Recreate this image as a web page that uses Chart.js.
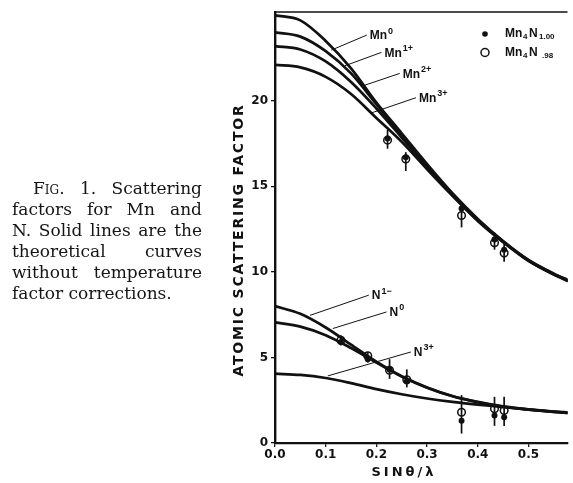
<!DOCTYPE html>
<html>
<head>
<meta charset="utf-8">
<script src="https://cdn.jsdelivr.net/npm/chart.js@4.4.1/dist/chart.umd.min.js"></script>
<style>
	html, body { margin: 0; padding: 0; background: #fff; }
	#wrap { position: relative; width: 573px; height: 483px; overflow: hidden; }
	#chart { position: absolute; left: 0; top: 0; }
	#caption { position: absolute; left: 12px; top: 178px; width: 190px; font-family: "DejaVu Serif", serif; font-size: 17px; line-height: 21px; color: #151515; }
	#caption div { text-align: justify; text-align-last: justify; }
	#caption div.first { padding-left: 21px; }
	#caption div.last { text-align-last: left; }
	.sc { font-variant: small-caps; }
</style>
</head>
<body>
<div id="wrap">
	<canvas id="chart" width="573" height="483"></canvas>
	<div id="caption">
		<div class="first"><span class="sc">Fig</span>. 1. Scattering</div>
		<div>factors for Mn and</div>
		<div>N. Solid lines are the</div>
		<div>theoretical curves</div>
		<div>without temperature</div>
		<div class="last">factor corrections.</div>
	</div>
</div>
<script>
// sin(theta)/lambda grid for the theoretical curves
const sinX  = [0, 0.05, 0.1, 0.15, 0.2, 0.25, 0.3, 0.35, 0.4, 0.45, 0.5, 0.55, 0.58]
const mn0   = [25.0, 24.7, 23.5, 21.9, 19.9, 18.1, 16.3, 14.6, 13.1, 11.8, 10.7, 9.9, 9.5]
const mn1p  = [24.0, 23.75, 22.9, 21.6, 19.8, 18.0, 16.2, 14.55, 13.05, 11.78, 10.68, 9.88, 9.48]
const mn2p  = [23.2, 23.0, 22.3, 21.1, 19.55, 17.85, 16.12, 14.5, 13.02, 11.76, 10.66, 9.86, 9.46]
const mn3p  = [22.1, 21.95, 21.4, 20.4, 19.0, 17.6, 16.0, 14.45, 12.98, 11.74, 10.64, 9.84, 9.44]
const n1m   = [8.0, 7.55, 6.75, 5.75, 4.75, 3.9, 3.25, 2.75, 2.4, 2.14, 1.97, 1.84, 1.78]
const n0    = [7.05, 6.8, 6.3, 5.55, 4.7, 3.88, 3.23, 2.73, 2.38, 2.12, 1.95, 1.82, 1.76]
const n3p   = [4.05, 3.98, 3.8, 3.5, 3.15, 2.85, 2.6, 2.4, 2.24, 2.1, 1.95, 1.82, 1.75]

// measured points
const mnX      = [0.222, 0.258, 0.368, 0.433, 0.452]
const mnFilled = [17.8, 16.7, 13.7, 11.9, 11.3]
const mnOpen   = [17.7, 16.6, 13.3, 11.7, 11.1]
const mnErrLo  = [17.2, 15.9, 12.6, 11.3, 10.6]
const mnErrHi  = [18.3, 17.0, 14.0, 12.3, 11.8]

const nX      = [0.13, 0.183, 0.226, 0.26, 0.368, 0.433, 0.452]
const nFilled = [5.9, 4.9, 4.3, 3.6, 1.3, 1.6, 1.5]
const nOpen   = [6.0, 5.1, 4.25, 3.7, 1.8, 2.0, 1.9]
const nErrLo  = [5.7, 4.7, 3.75, 3.25, 0.55, 1.0, 1.0]
const nErrHi  = [6.3, 5.3, 4.9, 4.3, 2.8, 2.7, 2.7]

const xTicks = [0, 0.1, 0.2, 0.3, 0.4, 0.5]
const yTicks = [0, 5, 10, 15, 20]

// curve labels with leader lines (data units)
const lblBase   = ['Mn', 'Mn', 'Mn', 'Mn', 'N', 'N', 'N']
const lblSup    = ['0', '1+', '2+', '3+', '1\u2212', '0', '3+']
const lblFrom   = [[0.111, 22.96], [0.138, 22.05], [0.172, 20.86], [0.191, 19.3], [0.069, 7.46], [0.114, 6.69], [0.104, 3.92]]
const lblTo     = [[0.181, 23.84], [0.210, 22.83], [0.246, 21.6], [0.278, 20.18], [0.185, 8.64], [0.22, 7.66], [0.268, 5.32]]

const INK = '#111'
const toPts = (xs, ys) => xs.map((x, i) => ({ x : x, y : ys[i] }))

const curve = (data) => ({
	data                   : toPts(sinX, data),
	showLine               : true,
	borderColor            : INK,
	borderWidth            : 2.7,
	pointRadius            : 0,
	cubicInterpolationMode : 'monotone',
})

const errPlugin = {
	id : 'errBars',
	afterDatasetsDraw : (chart) => {
		const { ctx, scales : { x, y } } = chart
		ctx.save()
		ctx.strokeStyle = INK
		ctx.lineWidth   = 1.7
		const bars = (xs, lo, hi) => xs.forEach((v, i) => {
			ctx.beginPath()
			ctx.moveTo(x.getPixelForValue(v), y.getPixelForValue(lo[i]))
			ctx.lineTo(x.getPixelForValue(v), y.getPixelForValue(hi[i]))
			ctx.stroke()
		})
		bars(mnX, mnErrLo, mnErrHi)
		bars(nX, nErrLo, nErrHi)
		ctx.restore()
	},
}

const annoPlugin = {
	id : 'annotations',
	afterDraw : (chart) => {
		const { ctx, chartArea, scales : { x, y } } = chart
		ctx.save()
		ctx.fillStyle   = INK
		ctx.strokeStyle = INK

		// top frame line
		ctx.lineWidth = 1.6
		ctx.beginPath()
		ctx.moveTo(chartArea.left, chartArea.top)
		ctx.lineTo(chartArea.right, chartArea.top)
		ctx.stroke()

		// leader lines + labels
		ctx.lineWidth    = 1
		ctx.textBaseline = 'middle'
		ctx.textAlign    = 'left'
		lblBase.forEach((txt, i) => {
			const x0 = x.getPixelForValue(lblFrom[i][0])
			const y0 = y.getPixelForValue(lblFrom[i][1])
			const x1 = x.getPixelForValue(lblTo[i][0])
			const y1 = y.getPixelForValue(lblTo[i][1])
			ctx.beginPath()
			ctx.moveTo(x0, y0)
			ctx.lineTo(x1, y1)
			ctx.stroke()
			ctx.font = 'bold 12px "Liberation Sans"'
			ctx.fillText(txt, x1 + 3, y1 + 1)
			const w = ctx.measureText(txt).width
			ctx.font = 'bold 9px "Liberation Sans"'
			ctx.fillText(lblSup[i], x1 + 4 + w, y1 - 4)
		})

		// legend
		const lx = 485
		ctx.beginPath()
		ctx.arc(lx, 34, 2.8, 0, Math.PI * 2)
		ctx.fill()
		ctx.lineWidth = 1.5
		ctx.beginPath()
		ctx.arc(lx, 52.5, 4, 0, Math.PI * 2)
		ctx.stroke()
		const legendRow = (yy, sub) => {
			ctx.font = 'bold 12px "Liberation Sans"'
			ctx.fillText('Mn', 505, yy)
			ctx.font = 'bold 8px "Liberation Sans"'
			ctx.fillText('4', 523, yy + 3)
			ctx.font = 'bold 12px "Liberation Sans"'
			ctx.fillText('N', 529, yy)
			ctx.font = 'bold 8px "Liberation Sans"'
			ctx.fillText(sub, sub === '.98' ? 542 : 539, yy + 3)
		}
		legendRow(34, '1.00')
		legendRow(52.5, '.98')

		// axis titles
		ctx.font          = 'bold 14px "DejaVu Sans"'
		ctx.letterSpacing = '1.8px'
		ctx.textAlign     = 'center'
		ctx.save()
		ctx.translate(239, 240)
		ctx.rotate(-Math.PI / 2)
		ctx.fillText('ATOMIC SCATTERING FACTOR', 0, 0)
		ctx.restore()
		ctx.font          = 'bold 13px "DejaVu Sans"'
		ctx.letterSpacing = '3px'
		ctx.fillText('SIN\u03B8/\u03BB', 404, 473)
		ctx.restore()
	},
}

new Chart(document.getElementById('chart'), {
	type : 'scatter',
	data : {
		datasets : [
			curve(mn0), curve(mn1p), curve(mn2p), curve(mn3p),
			curve(n1m), curve(n0), curve(n3p),
			{
				label           : 'Mn4 N1.00',
				data            : [...toPts(mnX, mnFilled), ...toPts(nX, nFilled)],
				pointRadius     : 3,
				pointStyle      : 'circle',
				backgroundColor : INK,
				borderColor     : INK,
				borderWidth     : 0,
			},
			{
				label           : 'Mn4 N.98',
				data            : [...toPts(mnX, mnOpen), ...toPts(nX, nOpen)],
				pointRadius     : 3.8,
				pointStyle      : 'circle',
				backgroundColor : 'rgba(0,0,0,0)',
				borderColor     : INK,
				borderWidth     : 1.5,
			},
		],
	},
	options : {
		responsive : false,
		animation  : false,
		layout     : { padding : { top : 12, right : 0, left : 0, bottom : 0 } },
		plugins    : {
			legend  : { display : false },
			tooltip : { enabled : false },
		},
		scales : {
			x : {
				type            : 'linear',
				min             : 0,
				max             : 0.577,
				afterFit        : (s) => { s.height = 40 },
				afterBuildTicks : (s) => { s.ticks = xTicks.map((v) => ({ value : v })) },
				border          : { display : true, color : INK, width : 2.2 },
				grid            : { drawOnChartArea : false, drawTicks : true, tickLength : 4, color : INK, lineWidth : 1.3 },
				ticks           : {
					color       : INK,
					padding     : 1,
					maxRotation : 0,
					font        : { family : 'DejaVu Sans', weight : 'bold', size : 12 },
					callback    : (v) => v.toFixed(1),
				},
			},
			y : {
				type            : 'linear',
				min             : 0,
				max             : 25.19,
				afterFit        : (s) => { s.width = 275 },
				afterBuildTicks : (s) => { s.ticks = yTicks.map((v) => ({ value : v })) },
				border          : { display : true, color : INK, width : 2.4 },
				grid            : { drawOnChartArea : false, drawTicks : true, tickLength : 4, color : INK, lineWidth : 1.3 },
				ticks           : {
					color    : INK,
					padding  : 3,
					font     : { family : 'DejaVu Sans', weight : 'bold', size : 12 },
					callback : (v) => String(v),
				},
			},
		},
	},
	plugins : [errPlugin, annoPlugin],
})
</script>
</body>
</html>
